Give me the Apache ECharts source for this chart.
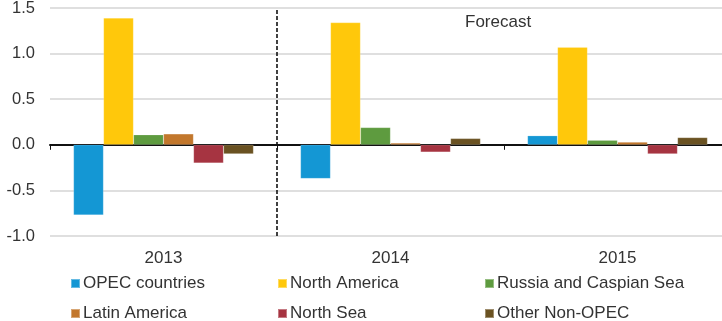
<!DOCTYPE html>
<html><head><meta charset="utf-8">
<script src="https://cdn.jsdelivr.net/npm/echarts@6/dist/echarts.min.js"></script>
<style>html,body{margin:0;padding:0;background:#fff}#c{width:722px;height:321px}</style>
</head><body><div id="c"></div>
<script>
const categories = ['2013', '2014', '2015'];
const opec = [-0.77, -0.37, 0.10];
const northAmerica = [1.39, 1.34, 1.07];
const russia = [0.11, 0.19, 0.05];
const latinAmerica = [0.12, 0.02, 0.03];
const northSea = [-0.20, -0.08, -0.10];
const otherNonOpec = [-0.10, 0.07, 0.08];
const yTicks = [-1.0, -0.5, 0.0, 0.5, 1.0, 1.5];
const forecastBoundary = [[1, -1.0], [1, 1.5]];

const names = ['OPEC countries', 'North America', 'Russia and Caspian Sea', 'Latin America', 'North Sea', 'Other Non-OPEC'];
const colors = ['#1497D4', '#FFC80B', '#5E9B3F', '#C2772C', '#A63441', '#6A5222'];
const values = [opec, northAmerica, russia, latinAmerica, northSea, otherNonOpec];
const font = '"Liberation Sans", Arial, sans-serif';
const legendLeft = [70, 277, 484, 70, 277, 484];
const legendTop = [275, 275, 275, 305, 305, 305];

const chart = echarts.init(document.getElementById('c'));
const barSeries = names.map((n, i) => ({
  name: n, type: 'bar', data: values[i],
  barGap: '0%', barCategoryGap: '20.7%',
  itemStyle: { color: colors[i], borderColor: 'rgba(255,255,255,0.35)', borderWidth: 0.5 },
  silent: true
}));
const legends = names.map((n, i) => ({
  data: [n], left: legendLeft[i], top: legendTop[i], orient: 'horizontal',
  itemWidth: 9, itemHeight: 9, icon: 'rect', padding: 0,
  textStyle: { fontFamily: font, fontSize: 17, color: '#333', padding: [0, 0, 0, -2] }
}));
chart.setOption({
  animation: false,
  grid: { left: 50, right: -9, top: 8, bottom: 85, outerBoundsMode: 'none', containLabel: false },
  xAxis: [{
    type: 'category', data: categories,
    axisLine: { onZero: true, lineStyle: { color: '#111', width: 2 } },
    axisTick: { show: true, alignWithLabel: false, length: 5, lineStyle: { color: '#111' } },
    axisLabel: { show: false },
    splitLine: { show: false }
  }, {
    type: 'value', min: 0, max: 3, show: false
  }, {
    type: 'category', data: categories, position: 'bottom',
    axisLine: { show: false, onZero: false }, axisTick: { show: false },
    axisLabel: { margin: 14, fontFamily: font, fontSize: 17, color: '#333' },
    splitLine: { show: false }
  }],
  yAxis: {
    type: 'value', min: yTicks[0], max: yTicks[yTicks.length - 1], interval: 0.5,
    axisLine: { show: false }, axisTick: { show: false },
    axisLabel: { margin: 15, fontFamily: font, fontSize: 16.5, color: '#333', formatter: v => v.toFixed(1) },
    splitLine: { lineStyle: { color: '#d4d4d4', width: 1.5 } }
  },
  legend: legends,
  graphic: [{
    type: 'text', left: 465, top: 14,
    style: { text: 'Forecast', fontFamily: font, fontSize: 17, fill: '#333' }
  }],
  series: barSeries.concat([{
    type: 'line', xAxisIndex: 1, data: forecastBoundary, symbol: 'none', silent: true,
    lineStyle: { color: '#111', width: 1.6, type: [4, 2] }, z: 5
  }])
});
</script></body></html>
